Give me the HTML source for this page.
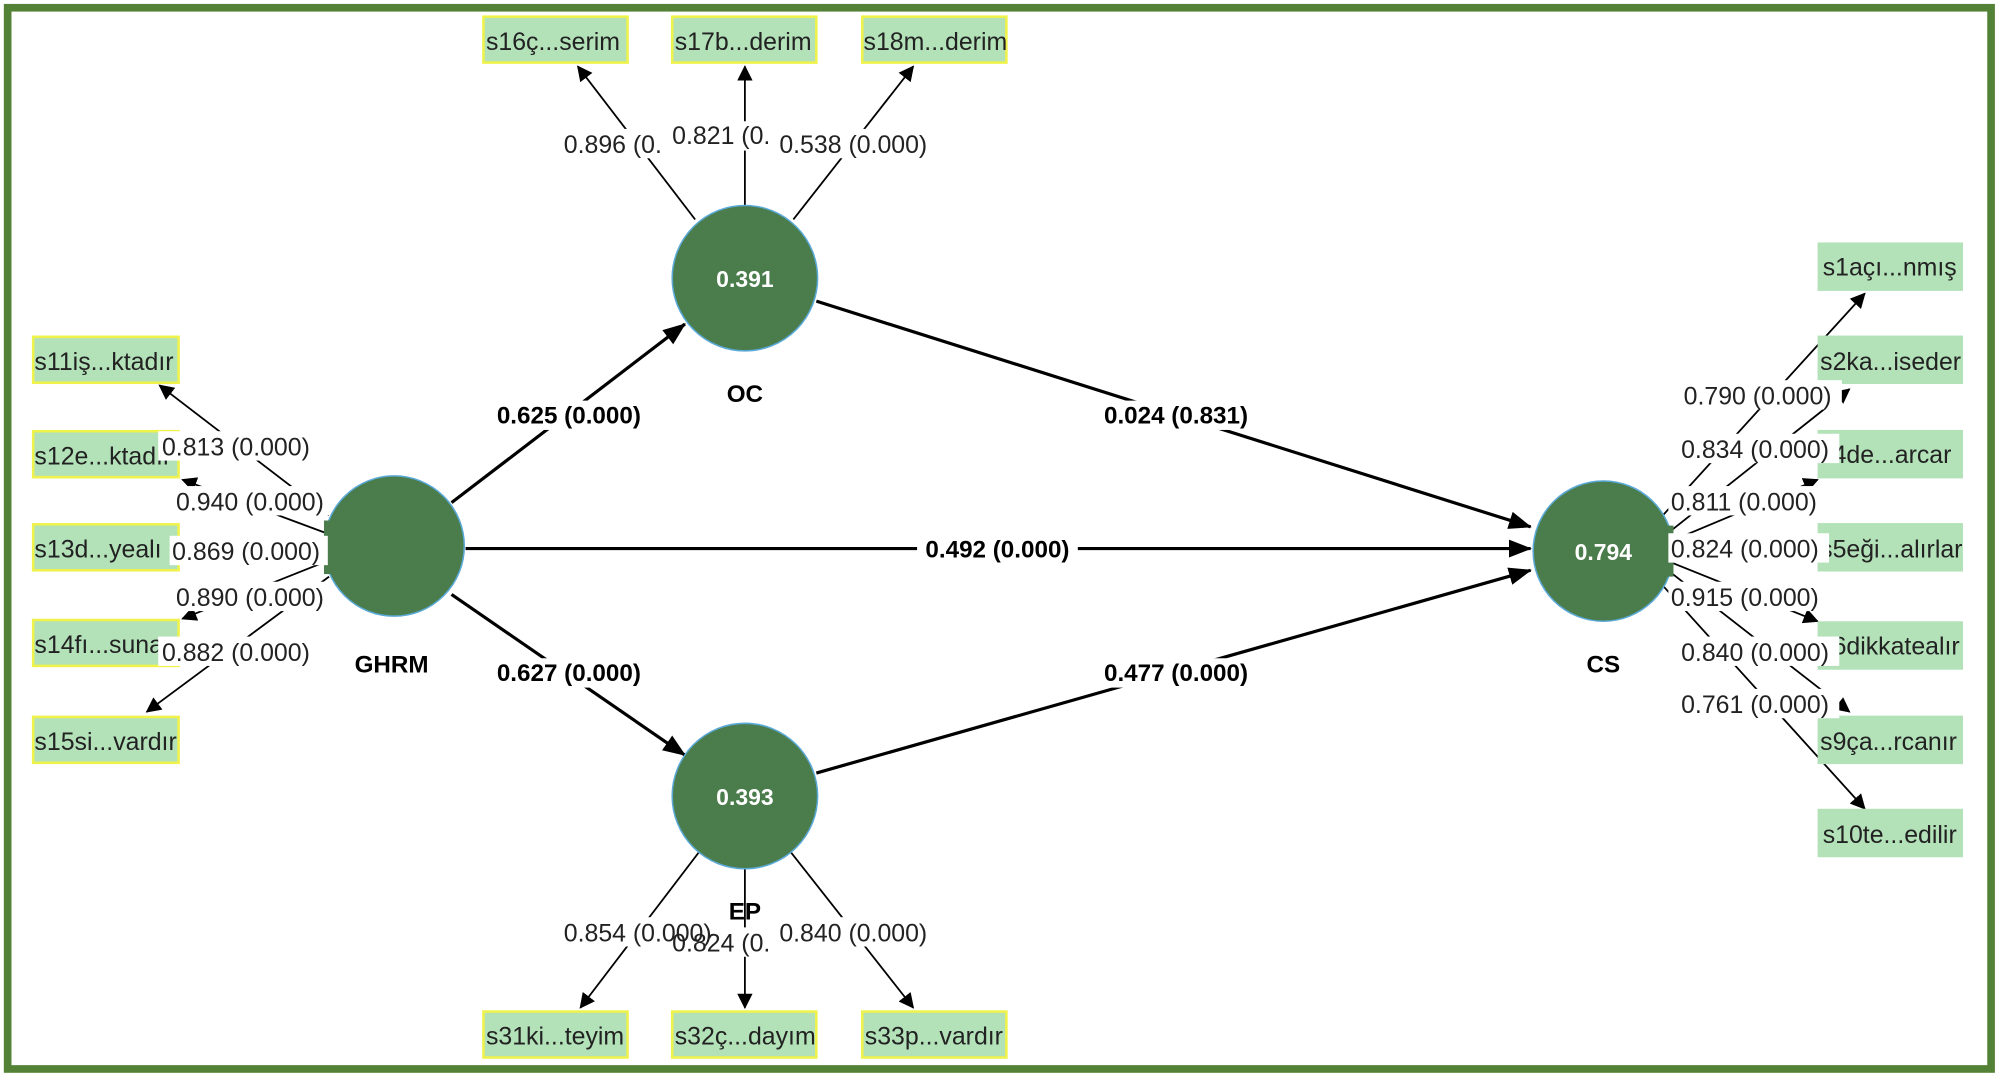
<!DOCTYPE html>
<html><head><meta charset="utf-8"><style>
html,body{margin:0;padding:0;background:#fff;}
svg{display:block;}
text{font-family:"Liberation Sans","DejaVu Sans",sans-serif;}
</style></head><body>
<svg width="2000" height="1078" viewBox="0 0 1568 845" xmlns="http://www.w3.org/2000/svg">
<defs>
<marker id="a" markerWidth="12" markerHeight="12" refX="11" refY="6" orient="auto" markerUnits="userSpaceOnUse">
<path d="M0,0 L12,6 L0,12 z" fill="#000"/></marker>
<marker id="b" markerWidth="18" markerHeight="14" refX="17" refY="7" orient="auto" markerUnits="userSpaceOnUse">
<path d="M0,0 L18,7 L0,14 z" fill="#000"/></marker>
</defs>
<rect x="0" y="0" width="1568" height="845" fill="#fff"/>
<rect x="6" y="6" width="1555" height="832" fill="none" stroke="#538135" stroke-width="6"/>

<g stroke="#000" stroke-width="2.5" fill="none">
<line x1="354" y1="394" x2="537" y2="254" marker-end="url(#b)"/>
<line x1="365" y1="430" x2="1200" y2="430" marker-end="url(#b)"/>
<line x1="354" y1="466" x2="537" y2="592" marker-end="url(#b)"/>
<line x1="640" y1="236" x2="1200" y2="413" marker-end="url(#b)"/>
<line x1="640" y1="606" x2="1200" y2="447" marker-end="url(#b)"/>
</g>

<g stroke="#000" stroke-width="1.4" fill="none">
<line x1="545" y1="172" x2="453" y2="52" marker-end="url(#a)"/>
<line x1="584" y1="161" x2="584" y2="52" marker-end="url(#a)"/>
<line x1="622" y1="172" x2="716" y2="52" marker-end="url(#a)"/>
<line x1="548" y1="668" x2="455" y2="790" marker-end="url(#a)"/>
<line x1="584" y1="681" x2="584" y2="790" marker-end="url(#a)"/>
<line x1="620" y1="668" x2="716" y2="790" marker-end="url(#a)"/>
<line x1="258" y1="404" x2="125" y2="302" marker-end="url(#a)"/>
<line x1="256" y1="418" x2="143" y2="376" marker-end="url(#a)"/>
<line x1="256" y1="440" x2="143" y2="485" marker-end="url(#a)"/>
<line x1="258" y1="452" x2="115" y2="558" marker-end="url(#a)"/>
<line x1="1300" y1="408" x2="1462" y2="230" marker-end="url(#a)"/>
<line x1="1305" y1="420" x2="1450" y2="305" marker-end="url(#a)"/>
<line x1="1308" y1="425" x2="1425" y2="376" marker-end="url(#a)"/>
<line x1="1308" y1="440" x2="1425" y2="487" marker-end="url(#a)"/>
<line x1="1305" y1="445" x2="1450" y2="558" marker-end="url(#a)"/>
<line x1="1300" y1="455" x2="1462" y2="634" marker-end="url(#a)"/>
</g>

<g fill="#4b7c4b" stroke="#5aa9d6" stroke-width="1.2">
<circle cx="584" cy="218" r="57"/>
<circle cx="309" cy="428" r="55"/>
<circle cx="584" cy="624" r="57"/>
<circle cx="1257" cy="432" r="55"/>
</g>
<g fill="#4b7c4b"><rect x="254" y="408" width="10" height="12"/><rect x="254" y="438" width="10" height="12"/>
<rect x="1302" y="412" width="10" height="12"/><rect x="1302" y="440" width="10" height="12"/></g>
<g fill="#fff" font-weight="bold" font-size="18" text-anchor="middle">
<text x="584" y="225">0.391</text><text x="584" y="631">0.393</text><text x="1257" y="439">0.794</text></g>
<g fill="#000" font-weight="bold" font-size="19" text-anchor="middle">
<text x="584" y="315">OC</text><text x="307" y="527">GHRM</text><text x="584" y="721">EP</text><text x="1257" y="527">CS</text></g>

<g fill="#b3e2b9" stroke="#eef24a" stroke-width="2">
<rect x="26" y="264" width="114" height="36"/><rect x="26" y="338" width="114" height="36"/>
<rect x="26" y="411" width="114" height="36"/><rect x="26" y="486" width="114" height="36"/>
<rect x="26" y="562" width="114" height="36"/>
<rect x="379" y="13" width="113" height="36"/><rect x="527" y="13" width="113" height="36"/><rect x="676" y="13" width="113" height="36"/>
<rect x="379" y="793" width="113" height="36"/><rect x="527" y="793" width="113" height="36"/><rect x="676" y="793" width="113" height="36"/>
</g>
<g fill="#b3e2b9">
<rect x="1425" y="190" width="114" height="38"/><rect x="1425" y="263" width="114" height="38"/>
<rect x="1425" y="337" width="114" height="38"/><rect x="1425" y="410" width="114" height="38"/>
<rect x="1425" y="487" width="114" height="38"/><rect x="1425" y="561" width="114" height="38"/>
<rect x="1425" y="634" width="114" height="38"/>
</g>
<g fill="#222" font-size="19.5">
<text x="27" y="290">s11iş...ktadır</text><text x="27" y="364">s12e...ktadır</text>
<text x="27" y="437">s13d...yealı</text><text x="27" y="512">s14fı...sunar</text>
<text x="27" y="588">s15si...vardır</text>
<text x="381" y="39">s16ç...serim</text><text x="529" y="39">s17b...derim</text><text x="677" y="39">s18m...derim</text>
<text x="381" y="819">s31ki...teyim</text><text x="529" y="819">s32ç...dayım</text><text x="678" y="819">s33p...vardır</text>
<text x="1429" y="216">s1açı...nmış</text><text x="1427" y="290">s2ka...iseder</text>
<text x="1427" y="363">s4de...arcar</text><text x="1427" y="437">s5eği...alırlar</text>
<text x="1427" y="513">s6dikkatealır</text><text x="1427" y="588">s9ça...rcanır</text>
<text x="1429" y="661">s10te...edilir</text>
</g>

<g fill="#fff">
<rect x="124" y="338" width="124" height="23"/><rect x="136" y="381" width="123" height="23"/>
<rect x="133" y="420" width="124" height="23"/><rect x="136" y="456" width="123" height="23"/>
<rect x="124" y="499" width="124" height="23"/>
<rect x="440" y="101" width="118" height="23"/><rect x="524" y="95" width="90" height="23"/><rect x="609" y="101" width="124" height="23"/>
<rect x="440" y="719" width="118" height="23"/><rect x="524" y="727" width="90" height="23"/><rect x="609" y="719" width="124" height="23"/>
<rect x="1318" y="298" width="126" height="23"/><rect x="1316" y="340" width="126" height="23"/>
<rect x="1308" y="381" width="126" height="23"/><rect x="1308" y="418" width="126" height="23"/>
<rect x="1308" y="456" width="126" height="23"/><rect x="1316" y="499" width="126" height="23"/>
<rect x="1316" y="540" width="126" height="23"/>
</g>
<g fill="#222" font-size="19.5">
<text x="127" y="357">0.813 (0.000)</text><text x="138" y="400">0.940 (0.000)</text>
<text x="135" y="439">0.869 (0.000)</text><text x="138" y="475">0.890 (0.000)</text>
<text x="127" y="518">0.882 (0.000)</text>
<text x="527" y="113">0.821 (0.</text>
<text x="442" y="120">0.896 (0.</text><text x="611" y="120">0.538 (0.000)</text>
<text x="527" y="746">0.824 (0.</text>
<text x="442" y="738">0.854 (0.000)</text><text x="611" y="738">0.840 (0.000)</text>
<text x="1320" y="317">0.790 (0.000)</text><text x="1318" y="359">0.834 (0.000)</text>
<text x="1310" y="400">0.811 (0.000)</text><text x="1310" y="437">0.824 (0.000)</text>
<text x="1310" y="475">0.915 (0.000)</text><text x="1318" y="518">0.840 (0.000)</text>
<text x="1318" y="559">0.761 (0.000)</text>
</g>
<g font-size="19" font-weight="bold" fill="#000" text-anchor="middle">
<rect x="384" y="314" width="124" height="23" fill="#fff"/><text x="446" y="332">0.625 (0.000)</text>
<rect x="719" y="419" width="126" height="23" fill="#fff"/><text x="782" y="437">0.492 (0.000)</text>
<rect x="384" y="516" width="124" height="23" fill="#fff"/><text x="446" y="534">0.627 (0.000)</text>
<rect x="860" y="314" width="124" height="23" fill="#fff"/><text x="922" y="332">0.024 (0.831)</text>
<rect x="860" y="516" width="124" height="23" fill="#fff"/><text x="922" y="534">0.477 (0.000)</text>
</g>
</svg>
</body></html>
